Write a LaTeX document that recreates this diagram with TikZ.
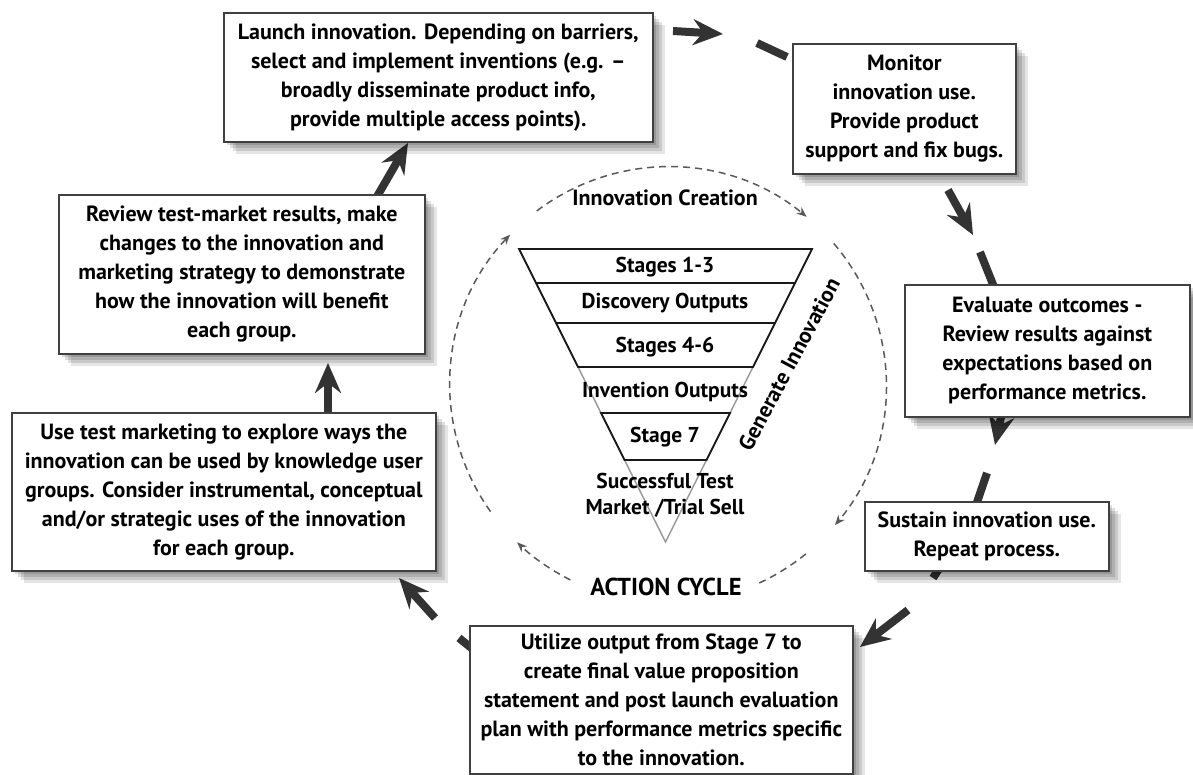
\documentclass[tikz,border=0pt]{standalone}
\usepackage{fontspec}
\setmainfont{PT Sans}
\usetikzlibrary{arrows.meta,shadows}
\newcommand\boxfont{\fontsize{22}{29}\selectfont\bfseries}
\newcommand\trifont{\fontsize{21.5}{26}\selectfont\bfseries}
\newcommand\labfont{\fontsize{22}{26}\selectfont\bfseries}
\newcommand\cycfont{\fontsize{24.5}{26}\selectfont\bfseries}
\tikzset{
  box/.style={draw=black!75, line width=1.6pt, fill=white, anchor=north west,
    inner sep=0pt, align=center, font=\boxfont, text=black,
    general shadow={fill=black,opacity=.13,shadow xshift=3pt,shadow yshift=-3pt},
    general shadow={fill=black,opacity=.13,shadow xshift=6pt,shadow yshift=-6pt},
    general shadow={fill=black,opacity=.12,shadow xshift=9pt,shadow yshift=-9pt},
    general shadow={fill=black,opacity=.10,shadow xshift=12pt,shadow yshift=-12pt}},
  thickarrow/.style={line width=8pt, draw=black!80,
    -{Stealth[length=30pt,width=26pt,inset=10pt]}},
  thickdash/.style={line width=8pt, draw=black!80},
  dcirc/.style={draw=black!65, line width=1.5pt, dash pattern=on 7pt off 5pt},
  dcarrow/.style={dcirc, -{Stealth[length=10pt,width=8pt]}},
  trithick/.style={draw=black!90, line width=1.8pt, line join=miter},
  trigray/.style={draw=black!40, line width=1.5pt},
  inner/.style={font=\trifont, text=black, align=center, inner sep=0pt}
}
\begin{document}
\begin{tikzpicture}[x=1pt,y=1pt]
\useasboundingbox (0,0) rectangle (1193,-775);
\fill[white] (0,0) rectangle (1193,-775);

% dashed cycle
\coordinate (C) at (668,-385);
\draw[dcarrow] (C) ++(127:218) arc[start angle=127, end angle=50.5, radius=218];
\draw[dcarrow] (C) ++(40.5:218) arc[start angle=40.5, end angle=-40, radius=218];
\draw[dcirc] (C) ++(-50.8:218) arc[start angle=-50.8, end angle=-66.4, radius=218];
\draw[dcarrow] (C) ++(-116.6:218) arc[start angle=-116.6, end angle=-133.8, radius=218];
\draw[dcarrow] (C) ++(-144.5:218) arc[start angle=-144.5, end angle=-223.6, radius=218];

% funnel
\draw[trigray] (519,-249) -- (665.5,-542) -- (812,-249);
\draw[trithick] (519,-249) -- (812,-249) -- (753,-367) -- (578,-367) -- cycle;
\draw[trithick] (536,-283) -- (795,-283);
\draw[trithick] (556,-323) -- (775,-323);
\draw[trithick] (601,-413) -- (730,-413) -- (706.5,-460) -- (624.5,-460) -- cycle;

\node[inner] (s13) at (665,-267) {Stages 1-3};
\node[inner] (dout) at (665,-303) {Discovery Outputs};
\node[inner] (s46) at (665,-347) {Stages 4-6};
\node[inner] (iout) at (665,-392) {Invention Outputs};
\node[inner] (s7) at (665,-437) {Stage 7};
\node[inner] (succ) at (665,-495) {Successful Test\\Market /Trial Sell};
\node[font=\labfont, text=black, inner sep=0pt] (icre) at (665,-198) {Innovation Creation};
\node[font=\labfont, text=black, inner sep=0pt, rotate=62] (gen) at (789,-364) {Generate Innovation};
\node[font=\cycfont, text=black, inner sep=0pt] (acyc) at (666,-587) {ACTION CYCLE};

% thick cycle arrows
\coordinate (a1s) at (673,-31);  \coordinate (a1e) at (723,-34);
\coordinate (d1s) at (757,-43);  \coordinate (d1e) at (787,-57);
\coordinate (a2s) at (948,-190); \coordinate (a2e) at (973,-235);
\coordinate (d2s) at (980,-252); \coordinate (d2e) at (996,-292);
\coordinate (a3s) at (1003,-408); \coordinate (a3e) at (995,-445);
\coordinate (d3s) at (987,-473); \coordinate (d3e) at (975,-508);
\coordinate (d4s) at (946,-558); \coordinate (d4e) at (933,-578);
\coordinate (a4s) at (908,-610); \coordinate (a4e) at (860,-647);
\coordinate (d5s) at (480,-655); \coordinate (d5e) at (459,-638);
\coordinate (a5s) at (435,-618); \coordinate (a5e) at (399,-578);
\coordinate (a6s) at (328,-422); \coordinate (a6e) at (328,-363);
\coordinate (a7s) at (375,-200); \coordinate (a7e) at (408,-143);
\draw[thickarrow] (a1s) -- (a1e);
\draw[thickdash] (d1s) -- (d1e);
\draw[thickarrow] (a2s) -- (a2e);
\draw[thickdash] (d2s) -- (d2e);
\draw[thickarrow] (a3s) -- (a3e);
\draw[thickdash] (d3s) -- (d3e);
\draw[thickdash] (d4s) -- (d4e);
\draw[thickarrow] (a4s) -- (a4e);
\draw[thickdash] (d5s) -- (d5e);
\draw[thickarrow] (a5s) -- (a5e);
\draw[thickarrow] (a6s) -- (a6e);
\draw[thickarrow] (a7s) -- (a7e);

% boxes
\node[box, minimum width=429pt, minimum height=129pt] (launch) at (223,-12)
  {Launch innovation. Depending on barriers,\\select and implement inventions (e.g. –\\broadly disseminate product info,\\provide multiple access points).};
\node[box, minimum width=223pt, minimum height=130pt] (monitor) at (792,-43)
  {Monitor\\innovation use.\\Provide product\\support and fix bugs.};
\node[box, minimum width=285pt, minimum height=132pt] (evaluate) at (904,-284)
  {Evaluate outcomes -\\Review results against\\expectations based on\\performance metrics.};
\node[box, minimum width=244pt, minimum height=69pt] (sustain) at (864,-501)
  {Sustain innovation use.\\Repeat process.};
\node[box, minimum width=383pt, minimum height=148pt] (utilize) at (469,-625)
  {Utilize output from Stage 7 to\\create final value proposition\\statement and post launch evaluation\\plan with performance metrics specific\\to the innovation.};
\node[box, minimum width=424pt, minimum height=158pt] (usetest) at (11,-412)
  {Use test marketing to explore ways the\\innovation can be used by knowledge user\\groups. Consider instrumental, conceptual\\and/or strategic uses of the innovation\\for each group.};
\node[box, minimum width=366pt, minimum height=159pt] (review) at (58,-194)
  {Review test-market results, make\\changes to the innovation and\\marketing strategy to demonstrate\\how the innovation will benefit\\each group.};
\end{tikzpicture}
\end{document}
